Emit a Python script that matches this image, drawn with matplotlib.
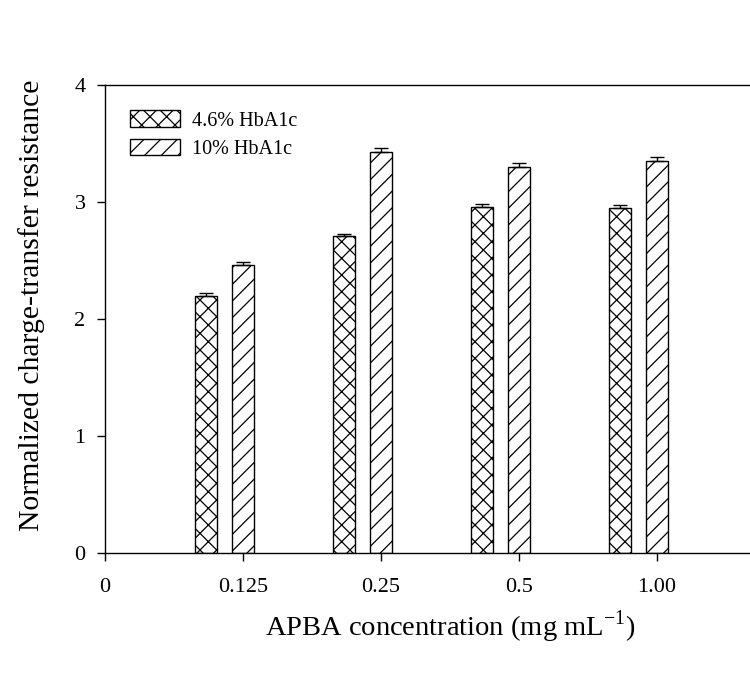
import matplotlib
matplotlib.use("Agg")
import matplotlib.pyplot as plt
import numpy as np

plt.rcParams['font.family'] = ['Liberation Serif', 'DejaVu Serif']
plt.rcParams['hatch.linewidth'] = 0.9
plt.rcParams['mathtext.fontset'] = 'custom'
plt.rcParams['mathtext.rm'] = 'Liberation Serif'

categories = ['0.125', '0.25', '0.5', '1.00']
low_vals = [2.20, 2.71, 2.96, 2.95]
low_err = [0.025, 0.02, 0.025, 0.03]
high_vals = [2.46, 3.43, 3.30, 3.35]
high_err = [0.03, 0.03, 0.035, 0.035]
series_labels = ['4.6% HbA1c', '10% HbA1c']

fig = plt.figure(figsize=(7.5, 6.93), dpi=100)
ax = fig.add_axes([0.14, 0.202, 0.92, 0.675])

x = np.arange(1, len(categories) + 1)
w = 0.16
off = 0.27
ax.bar(x - off, low_vals, w, facecolor='white', edgecolor='black', hatch='xx',
       linewidth=1.0, label=series_labels[0],
       yerr=[np.zeros(len(low_err)), low_err], capsize=5,
       error_kw=dict(elinewidth=1.0, capthick=1.0, ecolor='black'))
ax.bar(x, high_vals, w, facecolor='white', edgecolor='black', hatch='//',
       linewidth=1.0, label=series_labels[1],
       yerr=[np.zeros(len(high_err)), high_err], capsize=5,
       error_kw=dict(elinewidth=1.0, capthick=1.0, ecolor='black'))

ax.set_xlim(0, 5)
ax.set_ylim(0, 4)
ax.set_xticks([0] + list(x))
ax.set_xticklabels(['0'] + categories)
ax.set_yticks([0, 1, 2, 3, 4])
ax.tick_params(axis='both', direction='out', length=6, width=1.0, labelsize=16)
ax.tick_params(axis='x', pad=12)
ax.tick_params(axis='y', pad=8)
for s in ['left', 'top', 'bottom', 'right']:
    ax.spines[s].set_linewidth(1.0)

ax.set_xlabel('APBA concentration (mg mL$^{-1}$)', fontsize=20.5, labelpad=8)
ax.set_ylabel('Normalized charge-transfer resistance', fontsize=21.3)
ax.yaxis.set_label_coords(-0.087, 0.53)

ax.legend(loc='upper left', bbox_to_anchor=(0.01, 0.985), frameon=False, fontsize=14.5,
          handlelength=2.5, handleheight=0.9, labelspacing=0.4, handletextpad=0.6)

fig.savefig('out.png', dpi=100)
